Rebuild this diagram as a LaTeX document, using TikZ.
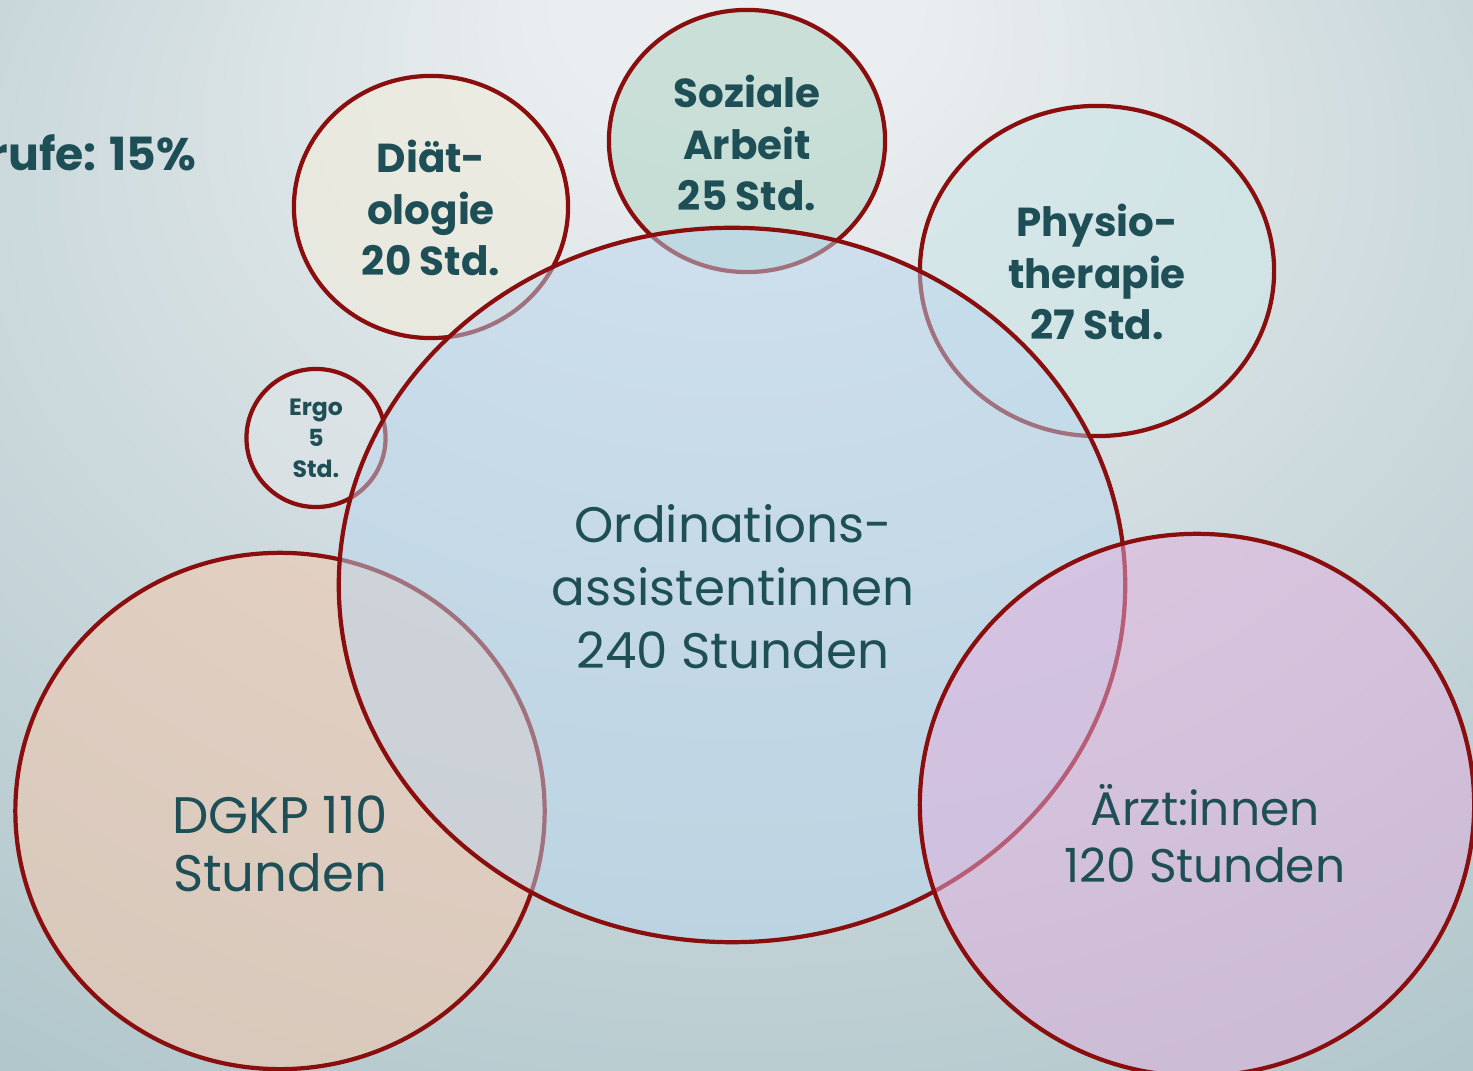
\documentclass[tikz,border=0pt]{standalone}
\usepackage{fontspec}
\setmainfont{Poppins}
\usetikzlibrary{shapes.geometric}
\definecolor{bgin}{RGB}{234,238,240}
\definecolor{bgout}{RGB}{150,180,186}
\definecolor{ring}{RGB}{138,14,14}
\definecolor{txt}{RGB}{31,79,86}
\definecolor{cdiaet}{RGB}{241,236,219}
\definecolor{csozial}{RGB}{179,214,201}
\definecolor{cphysio}{RGB}{205,230,231}
\definecolor{cergo}{RGB}{223,229,232}
\definecolor{cdgkp}{RGB}{240,201,176}
\definecolor{cmain}{RGB}{185,214,238}
\definecolor{carzt}{RGB}{228,175,222}
\pgfdeclareradialshading{bgshade}{\pgfpoint{0bp}{28bp}}{color(0bp)=(bgin); color(6bp)=(bgin); color(58bp)=(bgout)}
\tikzset{
  blob/.style={ellipse, draw=ring, line width=1.2pt, inner sep=0pt, outer sep=0pt, fill opacity=0.6},
  bigtxt/.style={text=txt, align=center, font=\fontsize{14.2}{17.9}\selectfont},
  dgtxt/.style={text=txt, align=center, font=\fontsize{14.6}{16.4}\selectfont},
  aztxt/.style={text=txt, align=center, font=\fontsize{13.4}{16.2}\selectfont},
  boldtxt/.style={text=txt, align=center, font=\bfseries\fontsize{11.5}{14.7}\selectfont},
  toptxt/.style={text=txt, font=\bfseries\fontsize{13}{15}\selectfont},
  tinytxt/.style={text=txt, align=center, font=\bfseries\fontsize{6.7}{8.8}\selectfont},
}
\begin{document}
\begin{tikzpicture}[x=0.01cm,y=-0.01cm]
\useasboundingbox (0,0) rectangle (1473,1071);
\shade[shading=bgshade] (0,0) rectangle (1473,1071);
% small circles first
\node[blob, fill=cdiaet, minimum width=2.74cm, minimum height=2.62cm] (diaet) at (431,207) {};
\node[blob, fill=csozial, minimum width=2.76cm, minimum height=2.62cm] (sozial) at (747,141) {};
\node[blob, fill=cphysio, minimum width=3.54cm, minimum height=3.30cm] (physio) at (1097,271) {};
\node[blob, fill=cergo, minimum width=1.39cm, minimum height=1.38cm] (ergo) at (316,438) {};
\node[blob, fill=cdgkp, minimum width=5.29cm, minimum height=5.16cm] (dgkp) at (280,811) {};
\node[blob, fill=cmain, fill opacity=0.5, minimum width=7.86cm, minimum height=7.14cm] (main) at (732,585) {};
\node[blob, fill=carzt, fill opacity=0.5, minimum width=5.54cm, minimum height=5.42cm] (arzt) at (1197,805) {};
% texts
\node[toptxt, anchor=east, inner sep=0pt] (rufe) at (197,153) {rufe: 15\%};
\node[boldtxt] (tdiaet) at (431,208) {Diät-\\ologie\\20 Std.};
\node[boldtxt] (tsozial) at (747,143) {Soziale\\Arbeit\\25 Std.};
\node[boldtxt] (tphysio) at (1097,272) {Physio-\\therapie\\27 Std.};
\node[tinytxt] (tergo) at (316,438) {Ergo\\5\\Std.};
\node[bigtxt] (tmain) at (733,587) {Ordinations-\\assistentinnen\\240 Stunden};
\node[dgtxt] (tdgkp) at (280,844) {DGKP 110\\Stunden};
\node[aztxt] (tarzt) at (1205,834) {Ärzt:innen\\120 Stunden};
\end{tikzpicture}
\end{document}
